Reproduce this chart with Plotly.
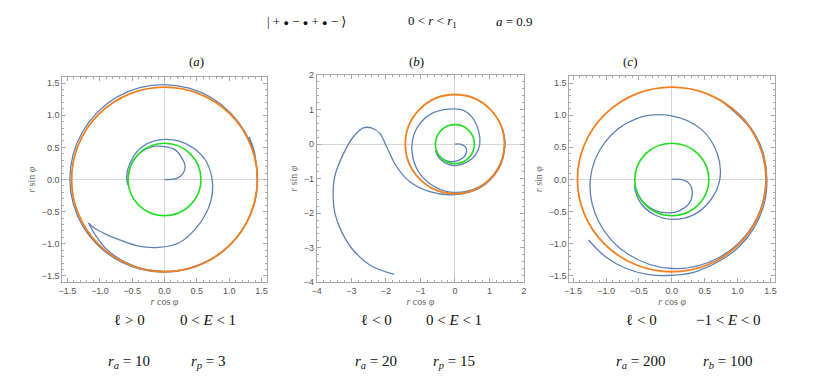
import numpy as np
import plotly.graph_objects as go

# horizon radii for a = 0.9 (orange = outer, green = inner)
R_OUTER = 1.436
R_INNER = 0.564

# orbit readings: radius r and polar angle phi (degrees, unwrapped) along the path
A_PHI = [0, 0, 5, 18, 33, 52, 70, 89, 108, 128, 147, 163, 178, 188, 178, 165, 143, 124, 106, 89,
         70, 47, 26, 4, -16, -39, -59, -77, -95, -111, -127, -137, -146, -150, -141, -130, -118,
         -100, -75, -45, -15, 15, 45, 75, 105, 135, 165, 195, 225, 255, 285, 315, 345, 375, 387]
A_R = [0, .08, .19, .30, .38, .43, .49, .51, .54, .56, .57, .565, .565, .575, .585, .59, .60, .615, .62, .625,
       .64, .665, .70, .73, .77, .83, .91, 1.01, 1.06, 1.11, 1.17, 1.245, 1.33, 1.355, 1.375, 1.405, 1.42,
       1.43, 1.432, 1.435, 1.436, 1.44, 1.455, 1.47, 1.478, 1.472, 1.465, 1.46, 1.452, 1.445, 1.44, 1.438,
       1.44, 1.45, 1.465]

B_PHI = [0, 0, -13, -32, -56, -78, -104, -129, -150, -162, -150, -132, -106, -84, -55, -27, 0, 28, 57,
         78, 100, 126, 152, 176, 198, 222, 246, 270, 300, 330, 360, 378, 360, 330, 300, 270, 242, 220,
         201, 182, 172, 169, 170, 176, 185, 195, 203, 210, 218, 226, 235, 245]
B_R = [0, .16, .30, .40, .46, .48, .52, .555, .58, .59, .60, .61, .62, .62, .63, .675, .72, .78, .92,
       1.01, 1.03, 1.11, 1.18, 1.235, 1.28, 1.33, 1.37, 1.40, 1.42, 1.43, 1.44, 1.445, 1.45, 1.455, 1.46,
       1.465, 1.56, 1.70, 1.81, 1.98, 2.19, 2.46, 2.69, 2.95, 3.24, 3.60, 3.83, 4.01, 4.15, 4.25, 4.28, 4.16]

C_PHI = [0, 0, -15, -35, -56, -77, -94, -116, -139, -157, -172, -160, -140, -115, -90, -60, -30, 0,
         30, 60, 90, 120, 150, 180, 210, 240, 270, 300, 330, 360, 390, 420, 400, 375, 345, 315, 285,
         270, 257, 243, 230, 216.6]
C_R = [0, .14, .28, .38, .46, .50, .52, .545, .56, .565, .575, .585, .60, .61, .62, .64, .67, .73,
       .80, .90, .99, 1.09, 1.17, 1.24, 1.29, 1.34, 1.385, 1.41, 1.425, 1.432, 1.436, 1.44, 1.445, 1.45,
       1.455, 1.465, 1.48, 1.49, 1.52, 1.55, 1.57, 1.58]

# indices where the orbit reverses its angular motion
TURNS = [[13, 33], [9, 31], [10, 31]]

PANEL_TAGS = ["(<i>a</i>)", "(<i>b</i>)", "(<i>c</i>)"]
L_TEXT = ["ℓ &gt; 0", "ℓ &lt; 0", "ℓ &lt; 0"]
E_TEXT = ["0 &lt; <i>E</i> &lt; 1", "0 &lt; <i>E</i> &lt; 1", "−1 &lt; <i>E</i> &lt; 0"]
RA_TEXT = ["<i>r<sub>a</sub></i> = 10", "<i>r<sub>a</sub></i> = 20", "<i>r<sub>a</sub></i> = 200"]
RB_TEXT = ["<i>r<sub>p</sub></i> = 3", "<i>r<sub>p</sub></i> = 15", "<i>r<sub>b</sub></i> = 100"]
DOT = "<span style='font-size:9px'>●</span>"
HEADER = [f"| + {DOT} − {DOT} + {DOT} − ⟩", "0 &lt; <i>r</i> &lt; <i>r</i><sub>1</sub>",
          "<i>a</i> = 0.9"]

BLUE, ORANGE, GREEN = "#5e81b5", "#f3801f", "#22dd22"
FRAME = "#a8a8a8"
PAGE_W, PAGE_H, OFF = 822, 386, 8      # the page body keeps an 8px margin
W, H = PAGE_W - OFF, PAGE_H - OFF
SERIF = "Liberation Serif, DejaVu Serif, serif"


def px_x(px):
    return (px - OFF) / W


def px_y(py):
    return 1 - (py - OFF) / H


# panel frames in page pixels: (left, right, top, bottom), axis ranges, ticks
frames = [(62.3, 266.7, 77.3, 282.3), (316.7, 524.0, 75.0, 282.3), (569.3, 775.0, 76.0, 282.3)]
xranges = [[-1.58, 1.58], [-4, 2], [-1.56, 1.57]]
yranges = [[-1.6, 1.59], [-4, 2], [-1.6, 1.61]]
major = [0.5, 1, 0.5]
minor = [0.1, 0.2, 0.1]
tfmt = [".1f", "d", ".1f"]

fig = go.Figure()
for i, (r, phi) in enumerate([(A_R, A_PHI), (B_R, B_PHI), (C_R, C_PHI)]):
    assert len(r) == len(phi)
    rr = np.asarray(r, float)
    pp = np.radians(np.asarray(phi, float))
    x, y = rr * np.cos(pp), rr * np.sin(pp)
    sfx = "" if i == 0 else str(i + 1)
    cuts = [0] + TURNS[i] + [len(rr) - 1]
    for a, b in zip(cuts[:-1], cuts[1:]):
        fig.add_trace(go.Scatter(
            x=x[a:b + 1], y=y[a:b + 1], mode="lines",
            line=dict(color=BLUE, width=1.3, shape="spline", smoothing=1),
            xaxis="x" + sfx, yaxis="y" + sfx, showlegend=False, hoverinfo="skip",
        ))
    for rad, col, w in [(R_OUTER, ORANGE, 1.8), (R_INNER, GREEN, 1.6)]:
        fig.add_shape(type="circle", xref="x" + sfx, yref="y" + sfx,
                      x0=-rad, x1=rad, y0=-rad, y1=rad,
                      line=dict(color=col, width=w), layer="above")

    l, rgt, t, b = frames[i]
    common = dict(
        showgrid=False, zeroline=True, zerolinecolor="#d6d6d6", zerolinewidth=1,
        showline=True, linecolor=FRAME, linewidth=1, mirror="allticks",
        ticks="inside", ticklen=4, tickcolor=FRAME, tickwidth=1,
        tickfont=dict(family="Liberation Sans, Arial, sans-serif", size=9, color="#555"),
        dtick=major[i], tick0=0, tickformat=tfmt[i], automargin=False,
        minor=dict(dtick=minor[i], ticks="inside", ticklen=2, tickcolor=FRAME, showgrid=False),
    )
    fig.update_layout(**{
        "xaxis" + sfx: dict(common, domain=[px_x(l), px_x(rgt)], range=xranges[i],
                            anchor="y" + sfx,
                            title=dict(text="<i>r</i> cos <i>φ</i>", standoff=2,
                                       font=dict(family=SERIF, size=10, color="#666"))),
        "yaxis" + sfx: dict(common, domain=[px_y(b), px_y(t)], range=yranges[i],
                            anchor="x" + sfx,
                            title=dict(text="<i>r</i> sin <i>φ</i>", standoff=4,
                                       font=dict(family=SERIF, size=10, color="#666"))),
    })

ann = []


def note(text, px, py, size=15):
    ann.append(dict(text=text, x=px_x(px), y=px_y(py), xref="paper", yref="paper",
                    xanchor="center", yanchor="middle", showarrow=False,
                    font=dict(family=SERIF, size=size, color="#111")))


for txt, px in zip(HEADER, [306, 432, 514]):
    note(txt, px, 22, 13)
for txt, px in zip(PANEL_TAGS, [196.7, 416.7, 630]):
    note(txt, px, 62, 13)
for i, (lx, ex) in enumerate([(129, 208), (376, 454), (641, 728)]):
    note(L_TEXT[i], lx, 320)
    note(E_TEXT[i], ex, 320)
    note(RA_TEXT[i], lx, 362)
    note(RB_TEXT[i], ex, 362)

fig.update_layout(
    width=W, height=H, margin=dict(l=0, r=0, t=0, b=0),
    paper_bgcolor="white", plot_bgcolor="white", annotations=ann,
)
fig.write_html("out.html")
